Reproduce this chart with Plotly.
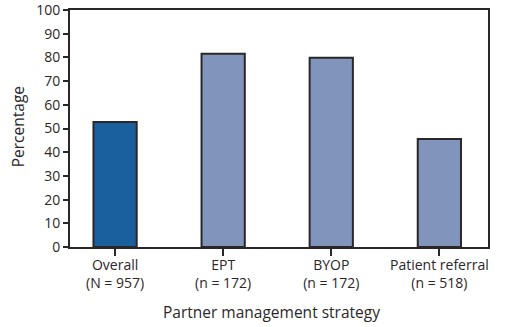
import plotly.graph_objects as go

categories = ["Overall<br>(N = 957)", "EPT<br>(n = 172)", "BYOP<br>(n = 172)", "Patient referral<br>(n = 518)"]
values = [52.7, 81.5, 79.8, 45.6]
colors = ["#1a5f9e", "#8194bb", "#8194bb", "#8194bb"]
y_ticks = [0, 10, 20, 30, 40, 50, 60, 70, 80, 90, 100]

ink = "#2b2728"
font = "Open Sans"

fig = go.Figure()
fig.add_trace(go.Bar(
    x=categories, y=values, width=0.4,
    marker=dict(color=colors, line=dict(color=ink, width=2)),
    hoverinfo="skip",
))

fig.update_layout(
    width=513, height=327,
    margin=dict(l=70, r=25, t=10, b=80),
    plot_bgcolor="white", paper_bgcolor="white",
    showlegend=False,
    font=dict(family=font, size=14, color=ink),
    annotations=[
        dict(text="Partner management strategy", xref="paper", yref="paper",
             x=0.481, y=-0.274, xanchor="center", yanchor="middle",
             showarrow=False, font=dict(size=15.5, color=ink)),
        dict(text="Percentage", xref="paper", yref="paper",
             x=-0.124, y=0.506, xanchor="center", yanchor="middle", textangle=-90,
             showarrow=False, font=dict(size=15.5, color=ink)),
    ],
)
fig.update_xaxes(
    type="category", range=[-0.417, 3.45], automargin=False,
    showline=True, linecolor=ink, linewidth=2, mirror=True,
    ticks="outside", ticklen=7, tickwidth=2, tickcolor=ink,
    tickfont=dict(size=14, color=ink), ticklabelstandoff=-3,
    ticklabeloverflow="allow",
    showgrid=False, zeroline=False,
)
fig.update_yaxes(
    range=[0, 100], tickvals=y_ticks, automargin=False,
    showline=True, linecolor=ink, linewidth=2, mirror=True,
    ticks="outside", ticklen=5, tickwidth=2, tickcolor=ink,
    tickfont=dict(size=14, color=ink), ticklabeloverflow="allow",
    showgrid=False, zeroline=False,
)

fig.write_html("out.html")
